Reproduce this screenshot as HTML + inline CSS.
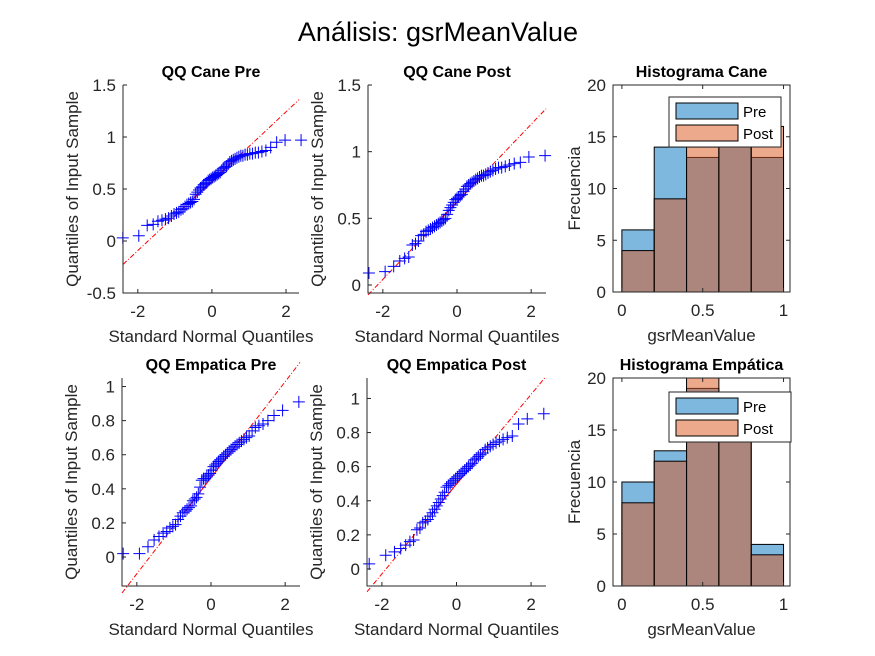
<!DOCTYPE html>
<html><head><meta charset="utf-8"><style>
html,body{margin:0;padding:0;background:#fff;}
svg{display:block;font-family:"Liberation Sans",Arial,sans-serif;}
</style></head><body>
<svg id="fig" width="875" height="656" viewBox="0 0 875 656">
<text x="438" y="41" text-anchor="middle" font-size="27" fill="#000">Análisis: gsrMeanValue</text>
</svg>
<script>
// ---- data ----
const canePre = [0.03,0.05,0.15,0.16,0.19,0.20,0.21,0.22,0.24,0.26,0.27,0.28,0.30,0.31,0.33,0.35,0.36,0.37,0.38,0.40,0.45,0.47,0.49,0.51,0.52,0.54,0.55,0.56,0.58,0.59,0.60,0.61,0.62,0.63,0.64,0.65,0.66,0.68,0.70,0.71,0.72,0.74,0.76,0.77,0.78,0.79,0.80,0.81,0.82,0.82,0.83,0.83,0.84,0.84,0.85,0.85,0.86,0.87,0.90,0.95,0.97,0.97];
const canePost = [0.09,0.10,0.14,0.18,0.20,0.21,0.30,0.31,0.33,0.37,0.38,0.40,0.41,0.42,0.43,0.44,0.45,0.46,0.47,0.48,0.49,0.50,0.53,0.56,0.58,0.60,0.62,0.64,0.65,0.66,0.67,0.68,0.70,0.72,0.74,0.75,0.76,0.77,0.78,0.79,0.80,0.81,0.82,0.82,0.83,0.84,0.85,0.86,0.87,0.88,0.88,0.89,0.90,0.91,0.92,0.96,0.97];
const empPre = [0.02,0.02,0.06,0.10,0.12,0.14,0.15,0.17,0.18,0.19,0.22,0.24,0.26,0.27,0.28,0.29,0.30,0.33,0.34,0.35,0.37,0.41,0.45,0.46,0.46,0.47,0.48,0.49,0.51,0.53,0.54,0.55,0.56,0.57,0.58,0.59,0.60,0.61,0.62,0.63,0.64,0.65,0.66,0.67,0.68,0.69,0.70,0.71,0.74,0.76,0.77,0.78,0.80,0.83,0.86,0.91];
const empPost = [0.03,0.08,0.10,0.12,0.14,0.16,0.17,0.23,0.24,0.27,0.28,0.29,0.31,0.33,0.35,0.37,0.39,0.41,0.43,0.45,0.48,0.49,0.50,0.51,0.52,0.53,0.54,0.55,0.56,0.57,0.58,0.59,0.60,0.61,0.62,0.64,0.65,0.66,0.67,0.68,0.70,0.71,0.72,0.73,0.74,0.75,0.76,0.77,0.78,0.85,0.88,0.91];
const binEdges = [0,0.2,0.4,0.6,0.8,1.0];
const caneHistPre = [6,14,13,16,13];
const caneHistPost = [4,9,14,15,16];
const empHistPre = [10,13,19,16,4];
const empHistPost = [8,12,20,16,3];
const qqXTicks = [-2,0,2];
const histXTicks = [0,0.5,1];
const histYTicks = [0,5,10,15,20];

const NS='http://www.w3.org/2000/svg';
const svg=document.getElementById('fig');
function el(tag,attrs,parent){const e=document.createElementNS(NS,tag);for(const k in attrs)e.setAttribute(k,attrs[k]);(parent||svg).appendChild(e);return e;}
function txt(s,attrs){const e=el('text',Object.assign({fill:'#262626','font-size':13},attrs));e.textContent=s;return e;}
function norminv(p){
 const a=[-3.969683028665376e+01,2.209460984245205e+02,-2.759285104469687e+02,1.383577518672690e+02,-3.066479806614716e+01,2.506628277459239e+00];
 const b=[-5.447609879822406e+01,1.615858368580409e+02,-1.556989798598866e+02,6.680131188771972e+01,-1.328068155288572e+01];
 const c=[-7.784894002430293e-03,-3.223964580411365e-01,-2.400758277161838e+00,-2.549732539343734e+00,4.374664141464968e+00,2.938163982698783e+00];
 const d=[7.784695709041462e-03,3.224671290700398e-01,2.445134137142996e+00,3.754408661907416e+00];
 const pl=0.02425;let q,r;
 if(p<pl){q=Math.sqrt(-2*Math.log(p));return (((((c[0]*q+c[1])*q+c[2])*q+c[3])*q+c[4])*q+c[5])/((((d[0]*q+d[1])*q+d[2])*q+d[3])*q+1);}
 if(p>1-pl){q=Math.sqrt(-2*Math.log(1-p));return -(((((c[0]*q+c[1])*q+c[2])*q+c[3])*q+c[4])*q+c[5])/((((d[0]*q+d[1])*q+d[2])*q+d[3])*q+1);}
 q=p-0.5;r=q*q;return (((((a[0]*r+a[1])*r+a[2])*r+a[3])*r+a[4])*r+a[5])*q/(((((b[0]*r+b[1])*r+b[2])*r+b[3])*r+b[4])*r+1);
}
function quant(s,p){const n=s.length;const pos=p*n-0.5;const i=Math.max(0,Math.min(n-2,Math.floor(pos)));const f=Math.max(0,Math.min(1,pos-i));return s[i]+(s[i+1]-s[i])*f;}
function fmt(v){return (Math.round(v*10)/10).toString();}

function qq(name,title,data,box,xmin,xmax,ymin,ymax,yTicks){
 const g=el('g',{});
 
 
 const X=v=>box.x+(v-xmin)/(xmax-xmin)*box.w;
 const Y=v=>box.y+box.h-(v-ymin)/(ymax-ymin)*box.h;
 const s=data.slice().sort((a,b)=>a-b);const n=s.length;
 const q1=quant(s,0.25),q3=quant(s,0.75);const z=norminv(0.75);
 const slope=(q3-q1)/(2*z),icpt=(q1+q3)/2;
 const ln=el('line',{x1:X(xmin),y1:Y(icpt+slope*xmin),x2:X(xmax),y2:Y(icpt+slope*xmax),stroke:'#ff0000','stroke-width':1,'stroke-dasharray':'5,2,1,2'},g);
 
 
 const ls=el('line',{x1:X(-z),y1:Y(q1),x2:X(z),y2:Y(q3),stroke:'#ff0000','stroke-width':1},g);
 
 
 for(let i=0;i<n;i++){
  const cx=X(norminv((i+0.5)/n)),cy=Y(s[i]);
  const p=el('path',{d:`M${cx-6},${cy}H${cx+6}M${cx},${cy-6}V${cy+6}`,stroke:'#0000ff','stroke-width':1,fill:'none'},g);
  
  
 }
 const ax=el('path',{d:`M${box.x},${box.y}V${box.y+box.h}H${box.x+box.w}`,stroke:'#262626',fill:'none','stroke-width':1},g);
 
 
 qqXTicks.forEach(t=>{const x=X(t);el('line',{x1:x,y1:box.y+box.h,x2:x,y2:box.y+box.h-4,stroke:'#262626'},g);
  const l=txt(t<0?'-'+Math.abs(t):''+t,{x:x,y:box.y+box.h+24,'text-anchor':'middle','font-size':17});
  
  });
 yTicks.forEach(t=>{const y=Y(t);el('line',{x1:box.x,y1:y,x2:box.x+4,y2:y,stroke:'#262626'},g);
  const l=txt(fmt(t),{x:box.x-7,y:y+6,'text-anchor':'end','font-size':17});
  
  });
 const tt=txt(title,{x:box.x+box.w/2,y:box.y-8,'text-anchor':'middle','font-size':16,'font-weight':'bold',fill:'#000'});
 
 
 const xl=txt('Standard Normal Quantiles',{x:box.x+box.w/2,y:box.y+box.h+49,'text-anchor':'middle','font-size':17});
 
 
 const yl=txt('Quantiles of Input Sample',{x:0,y:0,'text-anchor':'middle','font-size':17,transform:`translate(${box.x-45},${box.y+box.h/2}) rotate(-90)`});
 
 
}

function hist(name,title,pre,post,box,leg){
 const g=el('g',{});
 
 
 const xmin=-0.055,xmax=1.04,ymax=20;
 const X=v=>box.x+(v-xmin)/(xmax-xmin)*box.w;
 const Y=v=>box.y+box.h-v/ymax*box.h;
 [[pre,'#0072bd','bar-pre'],[post,'#d95319','bar-post']].forEach(([arr,col,nm])=>{
  arr.forEach((v,i)=>{const x0=X(binEdges[i]),x1=X(binEdges[i+1]);
   const r=el('rect',{x:x0,y:Y(v),width:x1-x0,height:Y(0)-Y(v),fill:col,'fill-opacity':0.5,stroke:'#000','stroke-width':1},g);
   
   });
 });
 const ax=el('rect',{x:box.x,y:box.y,width:box.w,height:box.h,fill:'none',stroke:'#262626'},g);
 
 
 histXTicks.forEach(t=>{const x=X(t);el('line',{x1:x,y1:box.y+box.h,x2:x,y2:box.y+box.h-4,stroke:'#262626'},g);el('line',{x1:x,y1:box.y,x2:x,y2:box.y+4,stroke:'#262626'},g);
  const l=txt(''+t,{x:x,y:box.y+box.h+24,'text-anchor':'middle','font-size':17});
  
  });
 histYTicks.forEach(t=>{const y=Y(t);el('line',{x1:box.x,y1:y,x2:box.x+4,y2:y,stroke:'#262626'},g);el('line',{x1:box.x+box.w,y1:y,x2:box.x+box.w-4,y2:y,stroke:'#262626'},g);
  const l=txt(''+t,{x:box.x-7,y:y+6,'text-anchor':'end','font-size':17});
  
  });
 const tt=txt(title,{x:box.x+box.w/2,y:box.y-8,'text-anchor':'middle','font-size':16,'font-weight':'bold',fill:'#000'});
 
 
 const xl=txt('gsrMeanValue',{x:box.x+box.w/2,y:box.y+box.h+49,'text-anchor':'middle','font-size':17});
 
 
 const yl=txt('Frecuencia',{x:0,y:0,'text-anchor':'middle','font-size':17,transform:`translate(${box.x-33},${box.y+box.h/2}) rotate(-90)`});
 
 
 const lg=el('g',{},g);
 
 
 el('rect',{x:leg.x,y:leg.y,width:leg.w,height:50,fill:'#fff',stroke:'#262626'},lg);
 el('rect',{x:leg.x+7,y:leg.y+6,width:62,height:16,fill:'#0072bd','fill-opacity':0.5,stroke:'#000'},lg);
 el('rect',{x:leg.x+7,y:leg.y+28,width:62,height:16,fill:'#d95319','fill-opacity':0.5,stroke:'#000'},lg);
 const a=txt('Pre',{x:leg.x+74,y:leg.y+20,'font-size':15,fill:'#000'});lg.appendChild(a);
 
 
 const b=txt('Post',{x:leg.x+74,y:leg.y+42,'font-size':15,fill:'#000'});lg.appendChild(b);
 
 
}

qq('qq-cane-pre','QQ Cane Pre',canePre,{x:123,y:85,w:176,h:208},-2.4,2.35,-0.5,1.5,[-0.5,0,0.5,1,1.5]);
qq('qq-cane-post','QQ Cane Post',canePost,{x:368,y:85,w:178,h:208},-2.4,2.4,-0.06,1.5,[0,0.5,1,1.5]);
qq('qq-empatica-pre','QQ Empatica Pre',empPre,{x:122,y:378,w:178,h:208},-2.4,2.4,-0.17,1.05,[0,0.2,0.4,0.6,0.8,1]);
qq('qq-empatica-post','QQ Empatica Post',empPost,{x:367,y:378,w:179,h:208},-2.4,2.4,-0.1,1.12,[0,0.2,0.4,0.6,0.8,1]);
hist('histogram-cane','Histograma Cane',caneHistPre,caneHistPost,{x:613,y:85,w:177,h:207},{x:669,y:97,w:112});
hist('histogram-empatica','Histograma Empática',empHistPre,empHistPost,{x:613,y:378,w:177,h:208},{x:669,y:392,w:122});
</script>
</body></html>
